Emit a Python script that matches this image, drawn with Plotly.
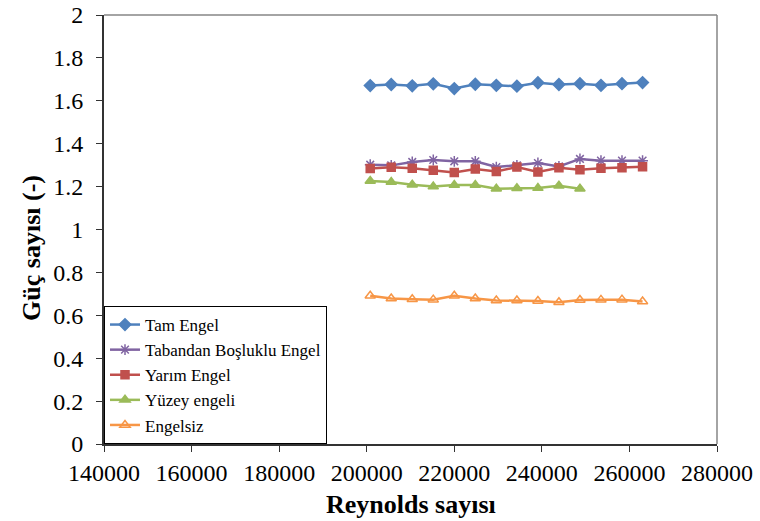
import plotly.graph_objects as go

reynolds = [200800, 205600, 210400, 215200, 220000, 224800, 229600,
            234300, 239100, 243900, 248700, 253500, 258300, 263000]

tam_engel = [1.671, 1.676, 1.670, 1.679, 1.657, 1.677, 1.672,
             1.668, 1.684, 1.676, 1.680, 1.672, 1.680, 1.685]
tabandan = [1.302, 1.299, 1.315, 1.324, 1.318, 1.318, 1.291,
            1.299, 1.310, 1.294, 1.329, 1.321, 1.321, 1.321]
yarim = [1.284, 1.290, 1.285, 1.276, 1.266, 1.282, 1.270,
         1.291, 1.268, 1.288, 1.279, 1.285, 1.288, 1.293]
yuzey = [1.226, 1.221, 1.209, 1.200, 1.207, 1.207, 1.190,
         1.192, 1.193, 1.204, 1.190]
engelsiz = [0.691, 0.678, 0.675, 0.673, 0.691, 0.678, 0.669,
            0.669, 0.667, 0.661, 0.671, 0.672, 0.673, 0.664]

series = [
    ("Tam Engel", reynolds, tam_engel, "#4F81BD", "diamond", 9),
    ("Tabandan Boşluklu Engel", reynolds, tabandan, "#8064A2", "asterisk-open", 9),
    ("Yarım Engel", reynolds, yarim, "#C0504D", "square", 8),
    ("Yüzey engeli", reynolds[:len(yuzey)], yuzey, "#9BBB59", "triangle-up", 9),
    ("Engelsiz", reynolds, engelsiz, "#F79646", "triangle-up-open", 9),
]

font = "Times New Roman"

fig = go.Figure()
for name, xs, ys, color, sym, size in series:
    fig.add_trace(go.Scatter(
        x=xs, y=ys, name=name, mode="lines+markers",
        line=dict(color=color, width=2.5),
        marker=dict(symbol=sym, size=size, color=color,
                    line=dict(color=color, width=1.5)),
    ))

fig.update_layout(
    width=760, height=521,
    margin=dict(l=104, r=43, t=15, b=77, autoexpand=False),
    paper_bgcolor="white", plot_bgcolor="white",
    font=dict(family=font, color="black"),
    showlegend=True,
    legend=dict(
        x=0, y=0, xanchor="left", yanchor="bottom",
        bgcolor="white", bordercolor="black", borderwidth=1,
        font=dict(family=font, size=17, color="black"),
        tracegroupgap=0, itemwidth=30,
    ),
    shapes=[
        dict(type="line", xref="paper", yref="paper", x0=0, x1=1, y0=1, y1=1,
             line=dict(color="#868686", width=1.5)),
        dict(type="line", xref="paper", yref="paper", x0=1, x1=1, y0=0, y1=1,
             line=dict(color="#868686", width=1.5)),
    ],
    annotations=[
        dict(text="<b>Reynolds sayısı</b>", xref="paper", yref="paper",
             x=0.5, y=-0.142, xanchor="center", yanchor="middle",
             showarrow=False, font=dict(family=font, size=26, color="black")),
        dict(text="<b>Güç sayısı (-)</b>", xref="paper", yref="paper",
             x=-0.1175, y=0.457, xanchor="center", yanchor="middle",
             textangle=-90, showarrow=False,
             font=dict(family=font, size=26, color="black")),
    ],
)

fig.update_xaxes(
    range=[140000, 280000], dtick=20000, tick0=140000,
    showgrid=False, zeroline=False, automargin=False,
    showline=True, linecolor="#333333", linewidth=2,
    ticks="outside", ticklen=6, tickcolor="#333333",
    tickfont=dict(family=font, size=24, color="black"),
    tickformat="d",
)
fig.update_yaxes(
    range=[0, 2], dtick=0.2,
    showgrid=False, zeroline=False, automargin=False,
    showline=True, linecolor="#333333", linewidth=2,
    ticks="outside", ticklen=6, tickcolor="#333333",
    ticklabelstandoff=8,
    tickfont=dict(family=font, size=24, color="black"),
    tickformat="~g",
)

fig.write_html("out.html", config={"displayModeBar": False},
               post_script="document.body.style.margin='0px';")
